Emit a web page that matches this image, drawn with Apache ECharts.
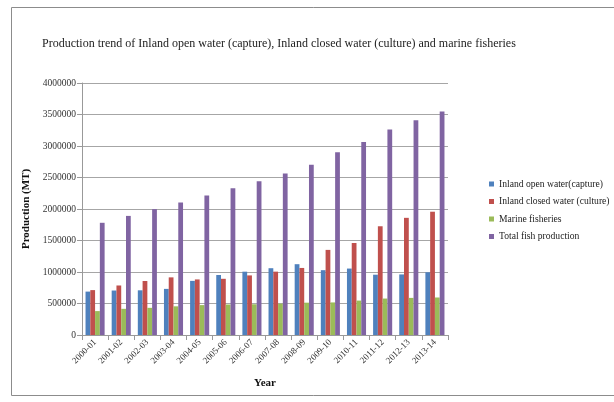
<!DOCTYPE html>
<html><head><meta charset="utf-8">
<script src="https://cdn.jsdelivr.net/npm/echarts@6/dist/echarts.min.js"></script>
<style>html,body{margin:0;padding:0;background:#fff}#c{width:614px;height:402px;}</style>
</head><body><div id="c"></div>
<script>
const categories = ["2000-01","2001-02","2002-03","2003-04","2004-05","2005-06","2006-07","2007-08","2008-09","2009-10","2010-11","2011-12","2012-13","2013-14"];
const inlandCapture = [688920,706019,709333,732000,859269,952000,1005000,1060181,1123925,1029000,1054585,957000,961458,995805];
const inlandCulture = [712640,786000,856956,914752,882091,892049,945812,1005542,1064285,1351000,1460769,1726000,1859808,1956925];
const marine = [379497,415420,431000,455000,474597,484000,488000,497485,513000,517000,546333,578620,588988,595385];
const total = [1781057,1890459,1998202,2102026,2215957,2328545,2440000,2563296,2701370,2899198,3061687,3261282,3410254,3548115];
const seriesNames = ["Inland open water(capture)","Inland closed water (culture)","Marine fisheries","Total fish production"];
const colors = ["#4F81BD","#C0504D","#9BBB59","#8064A2"];
const ff = "'Liberation Serif','Times New Roman',serif";
const chart = echarts.init(document.getElementById('c'));
const data = [inlandCapture, inlandCulture, marine, total];
chart.setOption({
  animation:false,
  color: colors,
  graphic:[{type:'rect',shape:{x:11.5,y:7.5,width:620,height:388},style:{fill:'none',stroke:'#8c8c8c',lineWidth:1}}],
  title:{text:"Production trend of Inland open water (capture), Inland closed water (culture) and marine fisheries",left:37,top:33,
    textStyle:{fontFamily:ff,fontSize:12,fontWeight:'normal',color:'#222'}},
  legend:{orient:'vertical',left:484,top:174,itemWidth:5,itemHeight:5,itemGap:7.5,icon:'rect',
    textStyle:{fontFamily:ff,fontSize:9.6,color:'#222'},data:seriesNames},
  grid:{left:82,top:83,width:366,height:252},
  xAxis:{type:'category',data:categories,
    name:'Year',nameLocation:'middle',nameGap:43,nameTextStyle:{fontFamily:ff,fontSize:11,fontWeight:'bold',color:'#111'},
    axisLine:{lineStyle:{color:'#999'}},axisTick:{show:true,lineStyle:{color:'#999'}},
    axisLabel:{rotate:45,fontFamily:ff,fontSize:9,color:'#333',margin:6}},
  yAxis:{type:'value',min:0,max:4000000,interval:500000,
    name:'Production (MT)',nameLocation:'middle',nameGap:48,nameRotate:90,nameTextStyle:{fontFamily:ff,fontSize:11,fontWeight:'bold',color:'#111'},
    axisLine:{show:true,lineStyle:{color:'#999'}},axisTick:{show:true,lineStyle:{color:'#999'}},
    splitLine:{lineStyle:{color:'#a6a6a6'}},
    axisLabel:{fontFamily:ff,fontSize:9.5,color:'#333',margin:6,formatter:v=>String(v)}},
  series: seriesNames.map((n,i)=>({name:n,type:'bar',data:data[i],barGap:'0%',barCategoryGap:'27%',
    itemStyle:{color:colors[i]}}))
});
</script></body></html>
